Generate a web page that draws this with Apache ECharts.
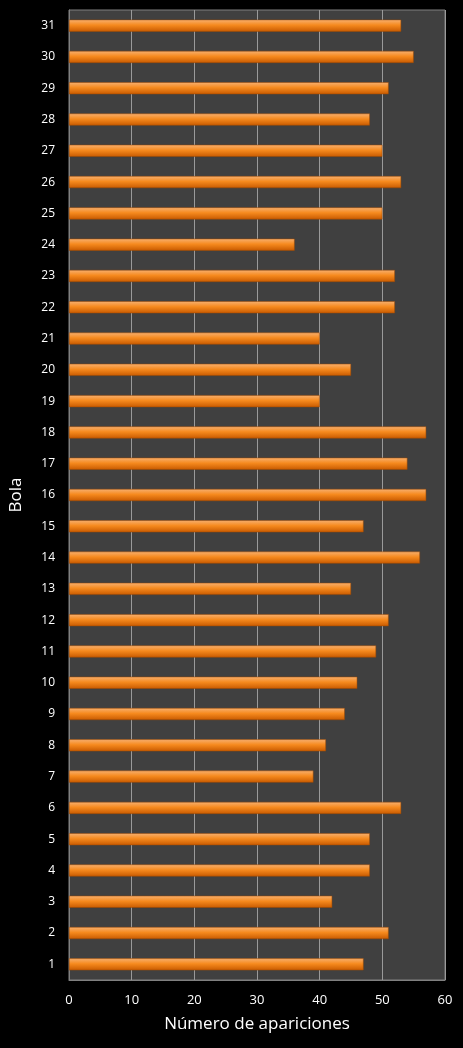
<!DOCTYPE html>
<html>
<head>
<meta charset="utf-8">
<script src="https://cdn.jsdelivr.net/npm/echarts@6/dist/echarts.min.js"></script>
<style>html,body{margin:0;padding:0;background:#000;}#chart{width:463px;height:1048px;}</style>
</head>
<body>
<div id="chart"></div>
<script>
// bolas 1..31
var bolas = [];
for (var i = 1; i <= 31; i++) bolas.push(String(i));
var apariciones = [47, 51, 42, 48, 48, 53, 39, 41, 44, 46, 49, 51, 45, 56, 47, 57, 54, 57, 40, 45, 40, 52, 52, 36, 50, 53, 50, 48, 51, 55, 53];
var ticksX = [0, 10, 20, 30, 40, 50, 60];

var myChart = echarts.init(document.getElementById('chart'));
myChart.setOption({
    backgroundColor: '#000',
    animation: false,
    grid: {
        left: 68, right: 18, top: 10, bottom: 68,
        show: true, backgroundColor: '#404040', borderColor: '#808080', borderWidth: 1
    },
    xAxis: {
        type: 'value', min: ticksX[0], max: ticksX[ticksX.length - 1], interval: 10,
        name: 'Número de apariciones', nameLocation: 'middle', nameGap: 36,
        nameTextStyle: {color: '#fff', fontSize: 17, fontFamily: 'Open Sans'},
        axisLine: {show: true, lineStyle: {color: '#808080'}},
        axisTick: {show: false},
        axisLabel: {color: '#fff', fontSize: 13, margin: 14, fontFamily: 'Open Sans'},
        splitLine: {lineStyle: {color: '#9a9a9a', width: 1}}
    },
    yAxis: {
        type: 'category', data: bolas,
        name: 'Bola', nameLocation: 'middle', nameGap: 44,
        nameTextStyle: {color: '#fff', fontSize: 17, fontFamily: 'Open Sans'},
        axisLine: {show: true, lineStyle: {color: '#808080'}},
        axisTick: {show: false},
        axisLabel: {color: '#fff', fontSize: 12, margin: 14, fontFamily: 'Open Sans'},
        splitLine: {show: false}
    },
    series: [{
        type: 'bar',
        data: apariciones,
        barWidth: 12,
        itemStyle: {
            borderColor: '#a04a00', borderWidth: 0.5,
            color: new echarts.graphic.LinearGradient(0, 0, 0, 1, [
                {offset: 0, color: '#f7b070'},
                {offset: 0.45, color: '#f68a1e'},
                {offset: 1, color: '#c85a00'}
            ])
        }
    }]
});
</script>
</body>
</html>
